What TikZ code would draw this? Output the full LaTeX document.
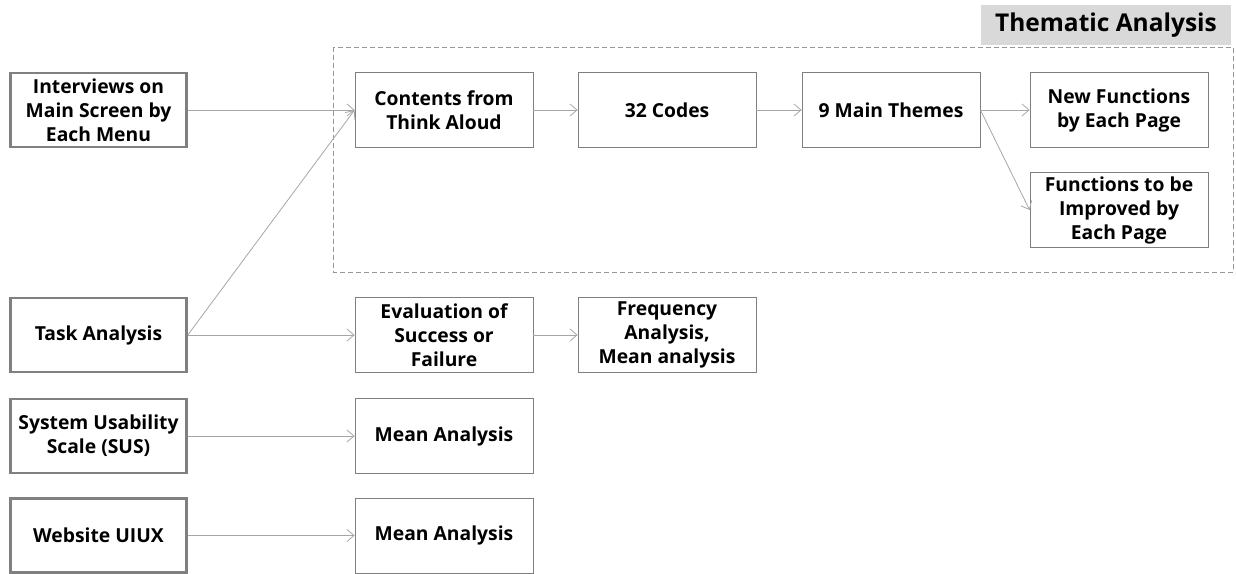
\documentclass[tikz,border=0pt]{standalone}
\usepackage{fontspec}
\setmainfont{Open Sans}
\usetikzlibrary{arrows.meta}
\definecolor{thick}{HTML}{808080}
\definecolor{thin}{HTML}{7F7F7F}
\definecolor{conn}{HTML}{A6A6A6}
\definecolor{lab}{HTML}{D9D9D9}
\begin{document}
\begin{tikzpicture}[x=1pt,y=-1pt,
  every node/.style={font=\bfseries\fontsize{19.3}{24}\selectfont, align=center, inner sep=0pt},
  srcbox/.style={draw=thick, line width=2.6pt, minimum width=176pt, minimum height=74pt},
  procbox/.style={draw=thin, line width=0.8pt, minimum width=178pt, minimum height=75pt},
  conn/.style={draw=conn, line width=0.8pt, -{Straight Barb[length=7pt,width=12pt,line width=0.8pt]}}
]
\useasboundingbox (0,0) rectangle (1236,573);
% thematic frame
\draw[conn, -, dashed, dash pattern=on 5pt off 3pt, draw=conn!90!black, line width=1pt] (333,47) rectangle (1233,272);
\node[fill=lab, minimum width=250pt, minimum height=40pt, font=\bfseries\fontsize{24.5}{28}\selectfont] (ta) at (1106,25) {Thematic Analysis};
% left sources
\node[srcbox] (iv) at (98.5,110) {Interviews on\\Main Screen by\\Each Menu};
\node[srcbox] (task) at (98.5,335) {Task Analysis};
\node[srcbox] (sus) at (98.5,436) {System Usability\\Scale (SUS)};
\node[srcbox] (web) at (98.5,535.5) {Website UIUX};
% process boxes
\node[procbox] (cta) at (444,110) {Contents from\\Think Aloud};
\node[procbox] (codes) at (667,110) {32 Codes};
\node[procbox] (themes) at (891,110) {9 Main Themes};
\node[procbox] (newf) at (1119,110) {New Functions\\by Each Page};
\node[procbox] (impf) at (1119,210) {Functions to be\\Improved by\\Each Page};
\node[procbox] (eval) at (444,335) {Evaluation of\\Success or\\Failure};
\node[procbox] (freq) at (667,335) {Frequency\\Analysis,\\Mean analysis};
\node[procbox] (mean1) at (444,436) {Mean Analysis};
\node[procbox] (mean2) at (444,535.5) {Mean Analysis};
% connectors
\draw[conn] (iv.east) -- (cta.west);
\draw[conn] (task.east) -- (cta.west);
\draw[conn] (task.east) -- (eval.west);
\draw[conn] (sus.east) -- (mean1.west);
\draw[conn] (web.east) -- (mean2.west);
\draw[conn] (cta.east) -- (codes.west);
\draw[conn] (codes.east) -- (themes.west);
\draw[conn] (themes.east) -- (newf.west);
\draw[conn] (themes.east) -- (impf.west);
\draw[conn] (eval.east) -- (freq.west);
\end{tikzpicture}
\end{document}
